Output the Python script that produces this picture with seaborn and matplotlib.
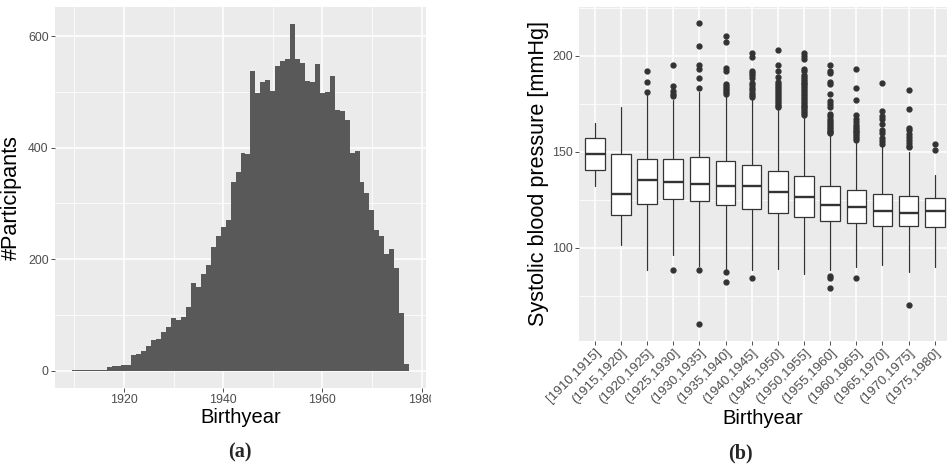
import numpy as np
import pandas as pd
import matplotlib
matplotlib.use("Agg")
import matplotlib.pyplot as plt
import seaborn as sns
from matplotlib.ticker import FixedLocator
from matplotlib.transforms import Bbox, TransformedBbox

# ---------------- data: panel (a) histogram ----------------
birth_years = list(range(1910, 1978))
participants = [1, 1, 1, 1, 1, 2, 2, 6, 8, 8,
                10, 10, 28, 30, 35, 44, 55, 57, 69, 78,
                94, 91, 96, 114, 158, 150, 173, 189, 221, 241,
                257, 270, 339, 356, 390, 388, 538, 497, 517, 522,
                501, 547, 556, 559, 621, 558, 551, 519, 517, 549,
                498, 499, 529, 467, 465, 449, 390, 393, 338, 318,
                288, 252, 241, 209, 218, 184, 103, 12]
hist_xticks = [1920, 1940, 1960, 1980]
hist_yticks = [0, 200, 400, 600]

# ---------------- data: panel (b) boxplots ----------------
bins = ["[1910,1915]", "(1915,1920]", "(1920,1925]", "(1925,1930]", "(1930,1935]",
        "(1935,1940]", "(1940,1945]", "(1945,1950]", "(1950,1955]", "(1955,1960]",
        "(1960,1965]", "(1965,1970]", "(1970,1975]", "(1975,1980]"]
q1 = [140.3, 117.1, 122.9, 125.2, 124.1, 122.1, 120.2, 118.1, 116.2, 114.1, 113.1, 111.2, 111.2, 110.7]
med = [148.8, 128.1, 135.2, 134.1, 133.1, 132.1, 132.1, 129.1, 126.2, 122.1, 121.0, 119.1, 118.1, 119.1]
q3 = [156.9, 148.8, 146.0, 146.0, 147.1, 145.0, 143.1, 140.0, 137.1, 132.1, 130.2, 128.1, 127.1, 126.0]
whisker_low = [131.9, 101.2, 88.3, 96.2, 90.5, 88.4, 88.3, 89.1, 86.2, 88.3, 90.2, 91.2, 87.2, 90.2]
whisker_high = [165.0, 173.3, 180.1, 176.7, 180.9, 179.3, 177.2, 172.9, 168.1, 158.6, 154.7, 153.4, 149.8, 137.9]
outliers = [
    [],
    [],
    [192.2, 186.2, 181.1],
    [195.2, 184.1, 181.4, 180.2, 179.0, 88.3],
    [217.1, 205.0, 195.2, 193.1, 188.1, 183.1, 88.3, 60.2],
    [210.0, 207.1, 193.4, 192.2, 185.3, 184.1, 183.1, 181.9, 180.9, 179.8, 87.1, 82.2],
    [201.2, 199.1, 192.2, 191.2, 189.8, 188.4, 186.0, 184.8, 183.1, 181.9, 180.7, 179.3, 178.4, 84.1],
    [203.1, 195.2, 192.2, 189.1, 186.2, 185.0, 184.0, 183.0, 182.0, 181.0, 180.0, 179.0,
     178.0, 177.0, 176.0, 175.0, 174.0, 173.5],
    [201.2, 200.0, 198.3, 193.1, 192.0, 190.0, 189.0, 188.0, 187.0, 186.0, 185.0, 184.0,
     183.0, 182.0, 181.0, 180.0, 179.0, 178.0, 177.0, 176.0, 175.0, 174.0, 173.0, 172.0,
     171.0, 170.0, 169.0],
    [195.2, 192.2, 191.2, 186.2, 185.0, 180.2, 176.2, 175.0, 173.3, 169.8, 168.5, 167.0,
     166.0, 165.0, 164.0, 163.0, 162.0, 161.0, 160.2, 159.5, 85.3, 84.0, 79.1],
    [193.1, 183.1, 177.1, 169.3, 167.0, 165.5, 164.0, 163.0, 162.0, 161.0, 160.0, 159.0,
     158.0, 157.0, 156.0, 84.1],
    [186.0, 171.2, 168.4, 167.2, 164.3, 161.2, 159.5, 156.9, 155.5, 154.0],
    [182.1, 172.1, 162.2, 161.2, 159.1, 157.4, 156.0, 154.5, 153.2, 152.2, 70.2],
    [154.1, 151.0],
]
box_yticks = [100, 150, 200]

# ---------------- style ----------------
sns.set_theme(style="darkgrid", rc={
    "axes.facecolor": "#EBEBEB",
    "grid.color": "white",
    "axes.edgecolor": "#EBEBEB",
    "xtick.color": "#333333",
    "ytick.color": "#333333",
    "xtick.labelcolor": "#4D4D4D",
    "ytick.labelcolor": "#4D4D4D",
})
plt.rcParams["font.family"] = ["Liberation Sans", "DejaVu Sans"]

W, H = 947, 465
fig = plt.figure(figsize=(W / 100, H / 100), dpi=100)
ax1 = fig.add_axes([55 / W, (H - 388) / H, (426 - 55) / W, (388 - 7) / H])
ax2 = fig.add_axes([579 / W, (H - 340.7) / H, (950.5 - 579) / W, (340.7 - 7) / H])

tick_fs = 8.9
xtitle_fs = 14.5
ytitle_fs = 15.6

# ---------------- panel (a) ----------------
df_hist = pd.DataFrame({"Birthyear": birth_years, "n": participants})
sns.histplot(data=df_hist, x="Birthyear", weights="n", discrete=True, shrink=1,
             color="#595959", alpha=1, linewidth=0, edgecolor="none", ax=ax1)
ax1.set_xlim(1906.1, 1980.9)
ax1.set_ylim(-31, 652)
ax1.xaxis.set_major_locator(FixedLocator(hist_xticks))
ax1.yaxis.set_major_locator(FixedLocator(hist_yticks))
ax1.xaxis.set_minor_locator(FixedLocator([1910, 1930, 1950, 1970]))
ax1.yaxis.set_minor_locator(FixedLocator([100, 300, 500]))
ax1.set_xlabel("Birthyear", fontsize=xtitle_fs, color="black")
ax1.set_ylabel("#Participants", fontsize=ytitle_fs, color="black")
ax1.xaxis.set_label_coords(0.5, -0.052)
ax1.yaxis.set_label_coords(-0.088, 0.5)

# ---------------- panel (b) ----------------
stats = []
for i, lab in enumerate(bins):
    stats.append(dict(label=lab, q1=q1[i], med=med[i], q3=q3[i],
                      whislo=whisker_low[i], whishi=whisker_high[i],
                      fliers=outliers[i]))
line_c = "#333333"
ax2.bxp(stats, positions=list(range(len(bins))), widths=0.75, patch_artist=True,
        showcaps=False, manage_ticks=False,
        boxprops=dict(facecolor="white", edgecolor=line_c, linewidth=0.9),
        medianprops=dict(color=line_c, linewidth=1.7, solid_capstyle="butt"),
        whiskerprops=dict(color=line_c, linewidth=0.9),
        flierprops=dict(marker="o", markerfacecolor=line_c, markeredgecolor=line_c,
                        markersize=3.5, linestyle="none"))
ax2.set_xlim(-0.6, 13.6)
ax2.set_ylim(51.6, 225.3)
ax2.xaxis.set_major_locator(FixedLocator(list(range(len(bins)))))
ax2.set_xticklabels(bins, rotation=45, ha="right", va="top", rotation_mode="anchor")
ax2.yaxis.set_major_locator(FixedLocator(box_yticks))
ax2.yaxis.set_minor_locator(FixedLocator([75, 125, 175, 225]))
ax2.set_xlabel("Birthyear", fontsize=xtitle_fs, color="black")
ax2.set_ylabel("Systolic blood pressure [mmHg]", fontsize=ytitle_fs, color="black")
ax2.xaxis.set_label_coords(0.5 * (947 - 579) / (950.5 - 579), -0.205)
ax2.yaxis.set_label_coords(-0.082, 0.5)

for ax in (ax1, ax2):
    ax.set_axisbelow(True)
    ax.grid(which="major", color="white", linewidth=1.1)
    ax.grid(which="minor", color="white", linewidth=0.55)
    for s in ax.spines.values():
        s.set_visible(False)
    ax.tick_params(which="major", length=2.6, width=0.6, pad=2, labelsize=tick_fs,
                   bottom=True, left=True)
    ax.tick_params(which="minor", length=0)
ax2.tick_params(axis="x", which="major", labelsize=9.6, pad=1.5)

# the left sub-figure is cut off just after the "1980" label
clip = TransformedBbox(Bbox([[0, 0], [4.31, 4.65]]), fig.dpi_scale_trans)
for lbl in ax1.get_xticklabels():
    lbl.set_clip_on(True)
    lbl.set_clip_box(clip)

# captions
fig.text(240 / W, 1 - 452 / H, "(a)", ha="center", va="center", fontsize=14.5,
         fontweight="bold", family=["Liberation Serif", "DejaVu Serif"])
fig.text(740 / W, 1 - 453 / H, "(b)", ha="center", va="center", fontsize=14.5,
         fontweight="bold", family=["Liberation Serif", "DejaVu Serif"])

fig.savefig("out.png", dpi=100, facecolor="white")
